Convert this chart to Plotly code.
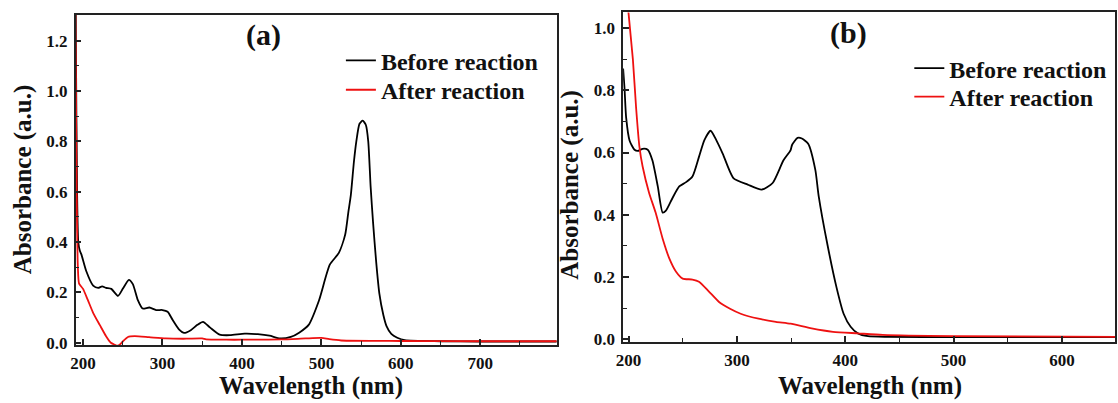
import plotly.graph_objects as go

# ---------------- Panel (a) data ----------------
wl_a_before = [190, 191, 192.5, 194, 196, 198, 204, 212.7, 219, 224, 229, 235.6, 244, 250, 257.7, 262.7, 269, 275,
               283.5, 292, 300, 306.5, 312.7, 321, 327, 335.6, 344, 351, 360, 372, 385, 403.5, 420, 434.7, 448,
               461.5, 472, 484, 497, 510.6, 522, 530, 534, 537, 541, 544, 548, 552, 556, 559, 562, 565, 569, 573,
               578, 582, 588, 595.5, 605, 650, 700, 750, 800]
abs_a_before = [2.0, 1.2, 0.6, 0.4, 0.365, 0.35, 0.285, 0.227, 0.218, 0.224, 0.218, 0.214, 0.186, 0.214, 0.25, 0.233,
                0.169, 0.136, 0.14, 0.13, 0.13, 0.123, 0.091, 0.052, 0.039, 0.05, 0.071, 0.083, 0.06, 0.032, 0.03,
                0.036, 0.034, 0.028, 0.017, 0.023, 0.04, 0.071, 0.168, 0.31, 0.357, 0.43, 0.52, 0.584, 0.72, 0.80,
                0.87, 0.882, 0.865, 0.80, 0.62, 0.48, 0.32, 0.195, 0.11, 0.066, 0.035, 0.02, 0.01, 0.006, 0.005,
                0.005, 0.005]

wl_a_after = [190, 190.8, 192, 193.5, 195, 200, 206, 213, 221, 229, 235, 240, 243, 246, 250, 256.5, 265, 283, 304,
              330, 350, 355, 380, 400, 450, 480, 500, 510, 525, 600, 700, 800]
abs_a_after = [1.5, 1.15, 0.6, 0.3, 0.235, 0.214, 0.17, 0.117, 0.071, 0.026, 0.0, -0.008, -0.012, -0.008, 0.005,
               0.023, 0.026, 0.022, 0.017, 0.016, 0.017, 0.013, 0.012, 0.012, 0.013, 0.017, 0.019, 0.014, 0.009,
               0.007, 0.006, 0.006]

# ---------------- Panel (b) data ----------------
wl_b_before = [195, 196.3, 197.8, 201, 205.5, 208.5, 213, 217.7, 222, 227, 231.5, 234.5, 240.6, 246.8, 252.8, 259,
               265, 270, 275.7, 281, 287, 297, 310, 323, 333, 343, 349.5, 351, 356, 360, 365.8, 372.4, 375.5,
               383.7, 392, 398.5, 405, 411.6, 421, 440, 500, 600, 650]
abs_b_before = [0.87, 0.806, 0.712, 0.638, 0.609, 0.605, 0.612, 0.609, 0.575, 0.491, 0.407, 0.413, 0.454, 0.491,
                0.504, 0.523, 0.586, 0.64, 0.67, 0.64, 0.596, 0.517, 0.497, 0.481, 0.502, 0.575, 0.607, 0.625,
                0.647, 0.645, 0.628, 0.544, 0.46, 0.302, 0.166, 0.082, 0.04, 0.019, 0.010, 0.008, 0.007, 0.007,
                0.007]

wl_b_after = [195, 200, 204, 207, 210, 213, 219, 225, 231.5, 237.6, 243.7, 250, 259, 265, 273.8, 283.8, 293.7,
              303.5, 320, 336, 349.5, 369, 388.7, 411.6, 434.6, 500, 650]
abs_b_after = [1.3, 1.048, 0.9, 0.743, 0.62, 0.555, 0.47, 0.407, 0.323, 0.26, 0.218, 0.195, 0.192, 0.185, 0.155,
               0.119, 0.098, 0.082, 0.066, 0.056, 0.05, 0.035, 0.024, 0.019, 0.014, 0.01, 0.008]

series_names = ["Before reaction", "After reaction"]
x_ticks_a = [200, 300, 400, 500, 600, 700, 800]
x_ticks_b = [200, 300, 400, 500, 600]
y_ticks_a = [0.0, 0.2, 0.4, 0.6, 0.8, 1.0, 1.2]
y_ticks_b = [0.0, 0.2, 0.4, 0.6, 0.8, 1.0]

BLACK = "#000000"
RED = "#ee1111"
FONT = "Liberation Serif, Times New Roman, Times, serif"
W, H = 1118, 403

fig = go.Figure()
traces = [
    (wl_a_before, abs_a_before, series_names[0], BLACK, "x", "y", "legend"),
    (wl_a_after, abs_a_after, series_names[1], RED, "x", "y", "legend2"),
    (wl_b_before, abs_b_before, series_names[0], BLACK, "x2", "y2", "legend3"),
    (wl_b_after, abs_b_after, series_names[1], RED, "x2", "y2", "legend4"),
]
for xs, ys, name, col, xa, ya, lg in traces:
    fig.add_trace(go.Scatter(x=xs, y=ys, mode="lines", name=name,
                             line=dict(color=col, width=1.8, shape="spline", smoothing=0.6),
                             xaxis=xa, yaxis=ya, legend=lg))

tickfont = dict(family=FONT, size=17, color="#111", weight="bold")
common = dict(showline=True, linewidth=1.5, linecolor="#222", mirror=True, showgrid=False, zeroline=False,
              ticks="inside", ticklen=6, tickwidth=1.5, tickcolor="#222", tickfont=tickfont)
minor_x = dict(dtick=50, tick0=0, ticks="inside", ticklen=4, tickwidth=1.2, tickcolor="#222")
minor_y = dict(dtick=0.1, tick0=0, ticks="inside", ticklen=4, tickwidth=1.2, tickcolor="#222")

legend_font = dict(family=FONT, size=24, color="#111", weight="bold")


def legend_box(px, py):
    return dict(x=px / W, y=(H - py) / H, xanchor="left", yanchor="top", bgcolor="rgba(0,0,0,0)",
                font=legend_font, tracegroupgap=0)


fig.update_layout(
    width=W, height=H,
    margin=dict(l=0, r=0, t=0, b=0),
    paper_bgcolor="white", plot_bgcolor="white",
    showlegend=True,
    xaxis=dict(domain=[69 / W, 553 / W], range=[190.6, 796], tickvals=x_ticks_a, minor=minor_x,
               ticklabelstandoff=2, anchor="y", **common),
    yaxis=dict(domain=[(H - 352) / H, (H - 15) / H], range=[-0.009, 1.303], tickvals=y_ticks_a,
               tickformat=".1f", minor=minor_y, ticklabelstandoff=3, anchor="x", **common),
    xaxis2=dict(domain=[620 / W, 1115 / W], range=[195, 649], tickvals=x_ticks_b, minor=minor_x,
                ticklabelstandoff=2, anchor="y2", **common),
    yaxis2=dict(domain=[(H - 349) / H, (H - 12.7) / H], range=[-0.009, 1.05], tickvals=y_ticks_b,
                tickformat=".1f", minor=minor_y, ticklabelstandoff=3, anchor="x2", **common),
    legend=legend_box(336, 39),
    legend2=legend_box(336, 69),
    legend3=legend_box(908, 47),
    legend4=legend_box(908, 76),
)

title_font = dict(family=FONT, size=25, color="#111", weight="bold")
ann = [
    dict(text="(a)", x=258 / W, y=(H - 36) / H, font=dict(family=FONT, size=30, color="#111", weight="bold")),
    dict(text="(b)", x=847 / W, y=(H - 34) / H, font=dict(family=FONT, size=30, color="#111", weight="bold")),
    dict(text="Wavelength (nm)", x=306 / W, y=(H - 394) / H, font=title_font),
    dict(text="Wavelength (nm)", x=868 / W, y=(H - 394) / H, font=title_font),
    dict(text="Absorbance (a.u.)", x=16 / W, y=(H - 183) / H, textangle=-90, font=title_font),
    dict(text="Absorbance (a.u.)", x=567 / W, y=(H - 188) / H, textangle=-90, font=title_font),
]
for a in ann:
    a.update(xref="paper", yref="paper", showarrow=False, xanchor="center", yanchor="middle")
    fig.add_annotation(**a)

fig.write_html("out.html", config={"displayModeBar": False},
               post_script="document.body.style.margin='0';document.body.style.overflow='hidden';")
